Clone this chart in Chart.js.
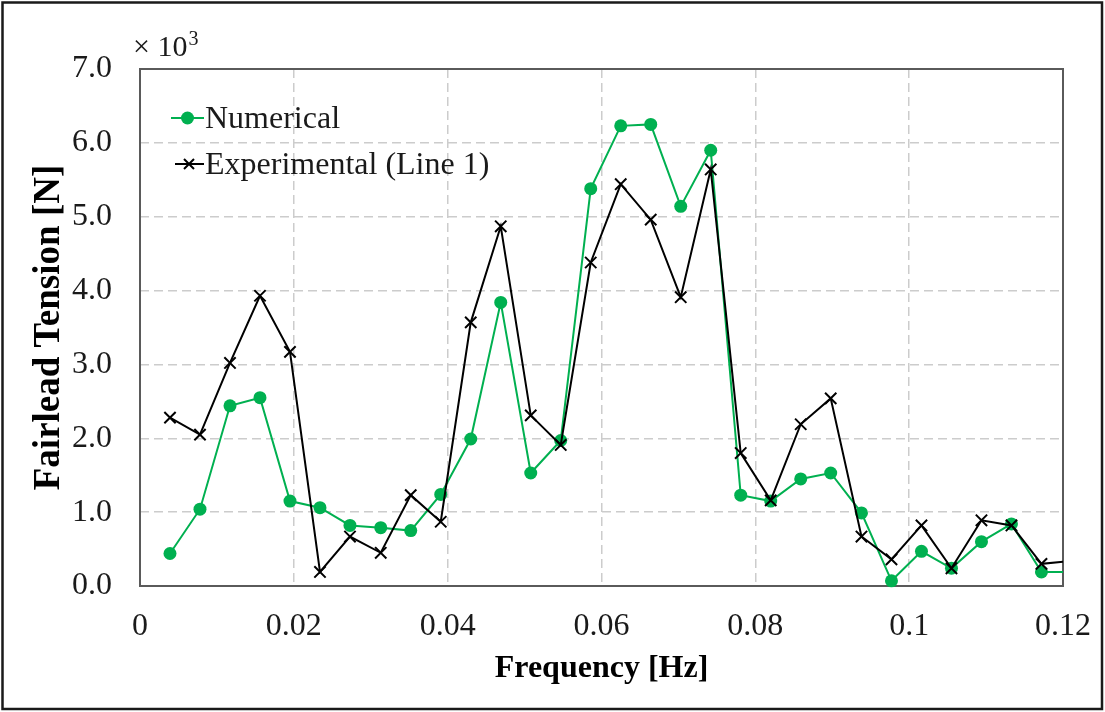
<!DOCTYPE html>
<html>
<head>
<meta charset="utf-8">
<script src="https://cdn.jsdelivr.net/npm/chart.js@4.4.0/dist/chart.umd.min.js"></script>
<style>
  html, body { margin: 0; padding: 0; background: #ffffff; }
  canvas { display: block; }
</style>
</head>
<body>
<canvas id="chart" width="1105" height="712"></canvas>
<script>
// Frequency bins [Hz]
const frequencies = [
  0.0039, 0.0078, 0.0117, 0.0156, 0.0195, 0.0234, 0.0273, 0.0313, 0.0352, 0.0391,
  0.0430, 0.0469, 0.0508, 0.0547, 0.0586, 0.0625, 0.0664, 0.0703, 0.0742, 0.0781,
  0.0820, 0.0859, 0.0898, 0.0938, 0.0977, 0.1016, 0.1055, 0.1094, 0.1133, 0.1172,
  0.1211
];

// Fairlead tension amplitudes, in units of 10^3 N
const numerical = [
  0.44, 1.04, 2.44, 2.55, 1.15, 1.06, 0.82, 0.79, 0.75, 1.24,
  1.99, 3.84, 1.53, 1.97, 5.38, 6.23, 6.25, 5.14, 5.90, 1.23,
  1.15, 1.45, 1.53, 0.99, 0.07, 0.47, 0.24, 0.60, 0.84, 0.19,
  0.19
];
const experimental = [
  2.28, 2.05, 3.02, 3.93, 3.17, 0.19, 0.67, 0.45, 1.23, 0.87,
  3.57, 4.87, 2.31, 1.91, 4.38, 5.44, 4.96, 3.91, 5.64, 1.80,
  1.16, 2.19, 2.54, 0.67, 0.36, 0.82, 0.24, 0.89, 0.82, 0.30,
  0.34
];

const xTicks = [0, 0.02, 0.04, 0.06, 0.08, 0.1, 0.12];
const yTicks = [0, 1, 2, 3, 4, 5, 6, 7];

const seriesNames = ['Numerical', 'Experimental (Line 1)'];
const GREEN = '#00b050';
const SERIF = "'Liberation Serif', 'Times New Roman', serif";

Chart.defaults.font.family = SERIF;
Chart.defaults.color = '#1a1a1a';

const toPoints = (xs, ys) => xs.map((x, i) => ({ x: x, y: ys[i] }));

// Plot frame, outer border, exponent note and legend
const decorations = {
  id: 'decorations',
  beforeDatasetsDraw(chart) {
    const { ctx, chartArea: a } = chart;
    ctx.save();
    ctx.strokeStyle = '#5a5a5a';
    ctx.lineWidth = 2;
    ctx.strokeRect(a.left, a.top, a.right - a.left, a.bottom - a.top);
    ctx.restore();
  },
  afterDraw(chart) {
    const { ctx, chartArea: a } = chart;
    ctx.save();
    // outer border
    ctx.strokeStyle = '#1a1a1a';
    ctx.lineWidth = 2.5;
    ctx.strokeRect(2.5, 2.5, 1099.5, 706.5);

    // axis multiplier
    ctx.fillStyle = '#1a1a1a';
    ctx.textBaseline = 'alphabetic';
    ctx.textAlign = 'left';
    ctx.font = '30px ' + SERIF;
    ctx.fillText('\u00d7 10', a.left - 7, 56);
    const w = ctx.measureText('\u00d7 10').width;
    ctx.font = '20px ' + SERIF;
    ctx.fillText('3', a.left - 7 + w + 1, 45);

    // legend
    const lx = a.left + 31, tx = a.left + 65;
    const rows = [a.top + 49, a.top + 95];
    ctx.font = '32px ' + SERIF;
    ctx.textBaseline = 'middle';

    ctx.strokeStyle = GREEN;
    ctx.lineWidth = 2;
    ctx.beginPath();
    ctx.moveTo(lx, rows[0]); ctx.lineTo(lx + 33, rows[0]);
    ctx.stroke();
    ctx.fillStyle = GREEN;
    ctx.beginPath();
    ctx.arc(lx + 16.5, rows[0], 6.5, 0, Math.PI * 2);
    ctx.fill();
    ctx.fillStyle = '#1a1a1a';
    ctx.fillText(seriesNames[0], tx, rows[0] + 2);

    ctx.strokeStyle = '#000';
    ctx.lineWidth = 2;
    ctx.beginPath();
    ctx.moveTo(lx + 4, rows[1]); ctx.lineTo(lx + 33, rows[1]);
    const cx = lx + 18, r = 5;
    ctx.moveTo(cx - r, rows[1] - r); ctx.lineTo(cx + r, rows[1] + r);
    ctx.moveTo(cx - r, rows[1] + r); ctx.lineTo(cx + r, rows[1] - r);
    ctx.stroke();
    ctx.fillText(seriesNames[1], tx, rows[1] + 2);
    ctx.restore();
  }
};

new Chart(document.getElementById('chart'), {
  type: 'line',
  data: {
    datasets: [
      {
        label: seriesNames[0],
        data: toPoints(frequencies, numerical),
        borderColor: GREEN,
        backgroundColor: GREEN,
        borderWidth: 2,
        pointStyle: 'circle',
        pointRadius: 6.5,
        pointBorderWidth: 0,
        pointBackgroundColor: GREEN,
        tension: 0,
        order: 2,
        clip: { left: 0, right: 0, top: false, bottom: false }
      },
      {
        label: seriesNames[1],
        data: toPoints(frequencies, experimental),
        borderColor: '#000000',
        backgroundColor: '#000000',
        borderWidth: 2,
        pointStyle: 'crossRot',
        pointRadius: 8,
        pointBorderWidth: 2,
        pointBorderColor: '#000000',
        tension: 0,
        order: 1,
        clip: { left: 0, right: 0, top: false, bottom: false }
      }
    ]
  },
  options: {
    responsive: false,
    animation: false,
    devicePixelRatio: 1,
    layout: { padding: { left: 0, top: 69, right: 42, bottom: 0 } },
    plugins: {
      legend: { display: false },
      tooltip: { enabled: false }
    },
    scales: {
      x: {
        type: 'linear',
        min: 0,
        max: 0.12,
        afterBuildTicks: s => { s.ticks = xTicks.map(v => ({ value: v })); },
        afterFit: s => { s.height = 126; s.paddingLeft = 0; s.paddingRight = 0; },
        ticks: {
          font: { size: 32 },
          padding: 21,
          maxRotation: 0,
          autoSkip: false,
          callback: v => String(v)
        },
        grid: { color: '#cccccc', lineWidth: 1.5, drawTicks: false },
        border: { display: false, dash: [9, 5] },
        title: {
          display: true,
          text: 'Frequency [Hz]',
          font: { size: 32, weight: 'bold' },
          color: '#000',
          padding: { top: 0, bottom: 24 }
        }
      },
      y: {
        type: 'linear',
        min: 0,
        max: 7,
        afterBuildTicks: s => { s.ticks = yTicks.map(v => ({ value: v })); },
        afterFit: s => { s.width = 140; s.paddingTop = 0; s.paddingBottom = 0; },
        ticks: {
          font: { size: 32 },
          padding: 28,
          callback: v => v.toFixed(1)
        },
        grid: { color: '#cccccc', lineWidth: 1.5, drawTicks: false },
        border: { display: false, dash: [9, 5] },
        title: {
          display: true,
          text: 'Fairlead Tension [N]',
          font: { size: 37, weight: 'bold' },
          color: '#000',
          padding: { top: 27, bottom: 0 }
        }
      }
    }
  },
  plugins: [decorations]
});
</script>
</body>
</html>
